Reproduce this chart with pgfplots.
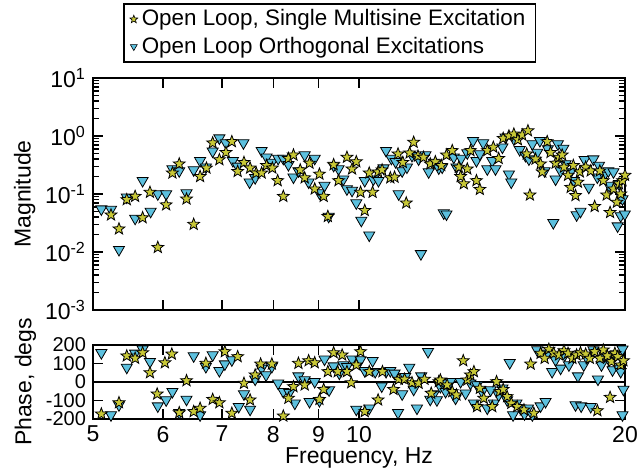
\documentclass[border=0pt]{standalone}
\usepackage{fontspec}
\setmainfont{Liberation Sans}
\usepackage{pgfplots}
\pgfplotsset{compat=1.18}
\usetikzlibrary{plotmarks}
\definecolor{starcol}{RGB}{200,200,55}
\definecolor{tricol}{RGB}{92,192,222}
\pgfkeys{/pgf/number format/assume math mode=true}
\pgfdeclareplotmark{fstar}{%
  \pgfpathmoveto{\pgfpointpolar{90}{\pgfplotmarksize}}%
  \pgfpathlineto{\pgfpointpolar{126}{0.42\pgfplotmarksize}}%
  \pgfpathlineto{\pgfpointpolar{162}{\pgfplotmarksize}}%
  \pgfpathlineto{\pgfpointpolar{198}{0.42\pgfplotmarksize}}%
  \pgfpathlineto{\pgfpointpolar{234}{\pgfplotmarksize}}%
  \pgfpathlineto{\pgfpointpolar{270}{0.42\pgfplotmarksize}}%
  \pgfpathlineto{\pgfpointpolar{306}{\pgfplotmarksize}}%
  \pgfpathlineto{\pgfpointpolar{342}{0.42\pgfplotmarksize}}%
  \pgfpathlineto{\pgfpointpolar{18}{\pgfplotmarksize}}%
  \pgfpathlineto{\pgfpointpolar{54}{0.42\pgfplotmarksize}}%
  \pgfpathclose
  \pgfusepathqfillstroke}
\begin{document}
\begin{tikzpicture}
\begin{axis}[name=top, at={(0,0)}, anchor=north west,
  scale only axis, width=266pt, height=116pt,
  xmode=log, xmin=5, xmax=20, minor xtick={},
  ymode=log, ymin=0.001, ymax=10,
  axis line style={line width=1pt},
  major tick style={black, line width=0.8pt}, minor tick style={black, line width=0.8pt},
  major tick length=5pt, minor tick length=3pt,
  tick label style={font=\fontsize{11.5}{11.5}\selectfont},
  label style={font=\fontsize{11.5}{12}\selectfont},
  clip=false,
  xtick={6,7,8,9,10}, xticklabels={},
  ytick={0.001,0.01,0.1,1,10},
  yticklabels={10\textsuperscript{-3},10\textsuperscript{-2},10\textsuperscript{-1},10\textsuperscript{0},10\textsuperscript{1}},
  minor ytick={0.002,0.003,0.004,0.005,0.006,0.007,0.008,0.009,0.02,0.03,0.04,0.05,0.06,0.07,0.08,0.09,0.2,0.3,0.4,0.5,0.6,0.7,0.8,0.9,2,3,4,5,6,7,8,9},
  ylabel={Magnitude}, ylabel style={yshift=-2pt},
  legend style={at={(axis description cs:0,1)}, anchor=south west, xshift=15pt, yshift=7.5pt,
    draw=black, line width=0.8pt, font=\fontsize{11.2}{12.5}\selectfont, inner xsep=3pt, inner ysep=1pt},
  legend cell align=left,
]
\addlegendimage{only marks, mark=fstar, mark size=2.1pt, mark options={fill=starcol, draw=black, line width=0.3pt}}
\addlegendentry{Open Loop, Single Multisine Excitation}
\addlegendimage{only marks, mark=triangle*, mark size=2pt, mark options={rotate=180, fill=tricol, draw=black, line width=0.3pt}}
\addlegendentry{Open Loop Orthogonal Excitations}
\addplot[only marks, mark=triangle*, mark size=3.2pt, mark options={rotate=180, fill=tricol, draw=black, line width=0.4pt}, forget plot] coordinates {
(5.11,0.055) (5.24,0.054) (5.35,0.011) (5.46,0.088) (5.58,0.038) (5.69,0.17) (5.81,0.050) (5.92,0.10)
(6.05,0.10) (6.15,0.27) (6.26,0.25) (6.38,0.104) (6.50,0.26) (6.61,0.375) (6.71,0.29) (6.83,0.545)
(6.95,0.92) (7.07,0.76) (7.20,0.375) (7.29,0.30) (7.40,0.76) (7.52,0.16) (7.63,0.19) (7.76,0.56) (7.86,0.43)
(7.97,0.35) (8.10,0.41) (8.21,0.41) (8.32,0.32) (8.43,0.195) (8.54,0.25) (8.68,0.47) (8.77,0.16)
(8.91,0.41) (9.02,0.104) (9.14,0.14) (9.24,0.041) (9.36,0.31) (9.48,0.27) (9.60,0.18) (9.69,0.122)
(9.82,0.115) (9.93,0.07) (10.06,0.035) (10.15,0.17) (10.27,0.0195) (10.38,0.18) (10.52,0.17) (10.66,0.28)
(10.73,0.56) (10.88,0.41) (11.0,0.36) (11.09,0.10) (11.19,0.25) (11.33,0.29) (11.48,0.46) (11.68,0.40)
(11.75,0.0093) (11.89,0.47) (11.99,0.24) (12.15,0.35) (12.31,0.28) (12.47,0.047)
(12.42,0.29) (12.56,0.045) (12.80,0.43) (12.89,0.29) (13.05,0.41) (13.26,0.51) (13.46,0.83) (13.58,0.375)
(13.70,0.49) (13.82,0.76) (13.97,0.27) (14.15,0.375) (14.27,0.27) (14.53,0.64) (14.65,0.95) (14.78,0.22)
(14.87,0.16) (14.97,0.89) (15.2,0.58) (15.43,0.46) (15.57,0.40) (15.71,0.73) (15.91,0.52) (16.02,0.83)
(16.22,0.25) (16.36,0.60) (16.59,0.032) (16.69,0.18) (16.79,0.73) (16.91,0.25) (17.03,0.61) (17.13,0.33)
(17.36,0.24) (17.51,0.17) (17.63,0.0435) (17.81,0.050) (18.0,0.39) (18.2,0.13) (18.42,0.40) (18.61,0.195)
(18.69,0.31) (18.94,0.21) (19.15,0.25) (19.19,0.14) (19.41,0.24) (19.62,0.028) (19.69,0.15) (19.78,0.042)
(19.87,0.082) (19.99,0.045)
};
\addplot[only marks, mark=fstar, mark size=3.1pt, mark options={fill=starcol, draw=black, line width=0.4pt}, forget plot] coordinates {
(5.24,0.0435) (5.35,0.025) (5.46,0.080) (5.58,0.091) (5.69,0.039) (5.80,0.107) (5.92,0.012) (6.05,0.065)
(6.15,0.23) (6.26,0.33) (6.38,0.082) (6.50,0.030) (6.61,0.20) (6.72,0.28) (6.83,0.76) (6.95,0.39)
(7.07,0.52) (7.18,0.80) (7.29,0.245) (7.41,0.35) (7.53,0.28) (7.65,0.23) (7.76,0.23) (7.86,0.31)
(7.98,0.28) (8.09,0.17) (8.21,0.091) (8.32,0.41) (8.43,0.47) (8.58,0.26) (8.68,0.19) (8.79,0.34)
(8.91,0.122) (9.02,0.22) (9.12,0.091) (9.22,0.041) (9.36,0.32) (9.48,0.17) (9.69,0.43) (9.82,0.27)
(9.93,0.36) (10.04,0.107) (10.15,0.052) (10.27,0.23) (10.36,0.107) (10.51,0.24) (10.62,0.26) (10.85,0.19)
(10.97,0.195) (11.07,0.49) (11.21,0.35) (11.31,0.07) (11.41,0.51) (11.53,0.78) (11.66,0.45) (11.83,0.43)
(12.04,0.33) (12.2,0.36) (12.39,0.31)
(12.56,0.47) (12.75,0.56) (12.97,0.29) (13.03,0.20) (13.14,0.15) (13.26,0.27) (13.37,0.56) (13.58,0.17)
(13.70,0.12) (13.97,0.56) (14.19,0.64) (14.39,0.41) (14.56,0.91) (14.78,1.0) (14.97,1.08) (15.13,0.86)
(15.3,1.04) (15.53,1.23) (15.61,0.096) (15.48,0.49) (15.84,0.40) (16.05,0.33) (16.12,0.24) (16.33,0.80)
(16.47,0.52) (16.69,0.34) (16.84,0.43) (16.98,0.47) (17.06,0.29) (17.24,0.21) (17.36,0.13) (17.48,0.31)
(17.58,0.094) (17.69,0.16) (17.78,0.24) (18.05,0.29) (18.29,0.25) (18.48,0.061) (18.73,0.25) (18.9,0.17)
(19.07,0.096) (19.24,0.048) (19.41,0.122) (19.58,0.072) (19.69,0.15) (19.78,0.10) (19.87,0.17) (20.0,0.21)
};
\end{axis}
\begin{axis}[name=bot, at={(top.south west)}, yshift=-17.5pt, anchor=north west,
  scale only axis, width=266pt, height=37pt,
  xmode=log, xmin=5, xmax=20, minor xtick={},
  ymin=-200, ymax=200,
  axis line style={line width=1pt},
  major tick style={black, line width=0.8pt},
  major tick length=5pt,
  xticklabel style={font=\fontsize{11.5}{11.5}\selectfont},
  yticklabel style={inner ysep=0pt, font=\fontsize{10}{10}\selectfont},
  label style={font=\fontsize{11.5}{12}\selectfont},
  clip=false,
  xtick={5,6,7,8,9,10,20}, xticklabels={5,6,7,8,9,10,20},
  ytick={-200,-100,0,100,200},
  ylabel={Phase, degs}, ylabel style={yshift=-2pt}, xlabel={Frequency, Hz},
  xlabel style={yshift=4pt},
]
\addplot[black, line width=1pt, forget plot] coordinates {(5,0) (20,0)};
\addplot[only marks, mark=triangle*, mark size=3.2pt, mark options={rotate=180, fill=tricol, draw=black, line width=0.4pt}] coordinates {
(5.11,158) (5.24,-178) (5.35,-124) (5.46,79) (5.58,155) (5.69,177) (5.80,110) (5.92,-130)
(6.05,-97) (6.15,-52) (6.26,-166) (6.38,-94) (6.50,141) (6.61,-178) (6.71,83) (6.83,146)
(6.95,61) (7.05,97) (7.18,119) (7.31,-133) (7.41,-65) (7.53,-148) (7.63,15) (7.76,74) (7.85,38)
(7.97,83) (8.10,-7) (8.21,-52) (8.34,-58) (8.46,-115) (8.54,32) (8.68,11) (8.79,-106) (8.91,2)
(9.02,-101) (9.14,123) (9.25,-43) (9.36,86) (9.50,47) (9.60,92) (9.69,83) (9.82,123) (9.93,-148)
(10.04,119) (10.15,61) (10.27,-142) (10.36,115) (10.43,56) (10.61,-22) (10.73,56) (10.85,61) (10.97,47)
(11.07,-166) (11.19,-65) (11.28,29) (11.40,79) (11.53,-40) (11.63,-142) (11.76,32) (11.97,164)
(12.04,-94) (12.15,-65) (12.25,-97) (12.36,-25)
(12.42,-4) (12.53,-52) (12.69,2) (12.86,-88) (13.03,2) (13.2,-61) (13.37,-7) (13.49,-115) (13.6,-16)
(13.78,-52) (13.97,-142) (14.09,-43) (14.21,-115) (14.39,-70) (14.53,-34) (14.71,-97) (14.81,104)
(14.94,-178) (15.07,-115) (15.23,-142) (15.39,-173) (15.53,-142) (15.71,-178) (15.91,173) (16.05,-130)
(16.26,-106) (16.33,155) (16.54,56) (16.69,119) (16.91,74) (17.09,146) (17.28,92) (17.48,137)
(17.58,-124) (17.69,32) (17.84,-130) (17.96,92) (18.12,128) (18.29,-133) (18.42,173) (18.64,15)
(18.81,92) (18.97,141) (19.19,119) (19.36,65) (19.53,151) (19.69,74) (19.78,56) (19.92,-40)
(19.87,-178) (19.87,177)
};
\addplot[only marks, mark=fstar, mark size=3.1pt, mark options={fill=starcol, draw=black, line width=0.4pt}] coordinates {
(5.11,-173) (5.35,-112) (5.46,141) (5.58,128) (5.69,158) (5.80,50) (5.91,-65) (6.03,104)
(6.14,151) (6.26,-166) (6.38,7) (6.50,-160) (6.61,-142) (6.71,101) (6.83,-94) (6.95,-112)
(7.05,164) (7.18,-169) (7.29,137) (7.41,-7) (7.53,-97) (7.63,38) (7.74,97)
(7.97,97) (8.21,-184) (8.32,-88) (8.43,-25) (8.54,101) (8.68,-16) (8.77,115) (8.91,104)
(9.02,-94) (9.12,-40) (9.22,56) (9.36,158) (9.46,56) (9.57,146) (9.69,56) (9.80,-4) (9.93,92)
(10.04,164) (10.15,-160) (10.27,56) (10.51,-97) (10.63,56) (10.94,-40) (11.09,15) (11.26,15)
(11.48,-4) (11.68,-7) (11.86,15) (12.07,-61) (12.31,2)
(12.36,11) (12.58,-16) (12.75,-52) (12.89,-70) (13.12,115) (13.26,11) (13.37,38) (13.49,56)
(13.6,-133) (13.70,-34) (13.84,-88) (14.15,-133) (14.31,2) (14.43,-52) (14.56,-40) (14.71,-79)
(14.87,-115) (15.1,-133) (15.37,-151) (15.64,97) (15.77,-169) (16.05,155) (16.22,128) (16.4,177)
(16.61,155) (16.84,146) (17.06,169) (17.24,155) (17.44,128) (17.63,146) (17.81,158) (18.05,151)
(18.25,128) (18.48,164) (18.61,-155) (18.73,128) (18.9,173) (19.1,141) (19.24,-83) (19.31,110)
(19.48,155) (19.62,137) (19.78,92) (19.92,115)
};
\end{axis}
\pgfresetboundingbox
\path (-46.5pt,-198pt) rectangle (272pt,39pt);
\end{tikzpicture}
\end{document}
